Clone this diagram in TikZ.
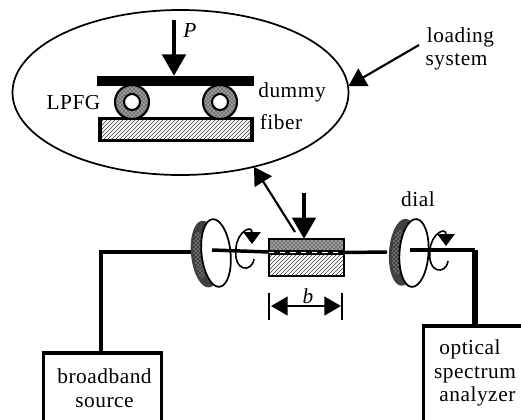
\documentclass[tikz,border=0pt]{standalone}
\usepackage{fontspec}
\setmainfont[LetterSpace=2.5]{Liberation Serif}
\usepackage{tikz}
\usetikzlibrary{positioning, arrows.meta, calc, patterns}

\tikzset{
  lbl/.style={inner sep=0pt, font=\fontsize{16}{17.6}\selectfont, align=center},
  bigarrow/.style={line width=3pt, -{Triangle[length=16pt,width=17.5pt]}},
  thinarrow/.style={line width=1.6pt, -{Triangle[length=13pt,width=15pt]}},
  turn/.style={line width=1.2pt, -{Triangle[length=9pt,width=13pt]}},
  fiber/.style={line width=2.6pt},
  hatched/.style={pattern=north east lines, pattern color=black!75},
  stipple/.style={preaction={fill=black!40}, pattern=crosshatch dots},
  instrument/.style={draw, line width=2.4pt, fill=white, inner sep=0pt}
}

\begin{document}
\begin{tikzpicture}[x=0.75pt, y=-0.75pt]
\useasboundingbox (0,0) rectangle (521,419);

% Enlarged view of the loading system
\draw[line width=1.3pt] (180.5,92.5) ellipse (168 and 82.5);
\coordinate (ellipseE) at (348.5,86);
\coordinate (ellipseS) at (254,167);

% Base plate and top plate
\node[draw, line width=2.4pt, hatched, minimum width=114pt, minimum height=17pt, inner sep=0pt] (base) at (176,129.5) {};
\node[fill=black, minimum width=118pt, minimum height=7.5pt, inner sep=0pt] (plate) at (175.5,81) {};

% Two fibers between the plates
\foreach \xx/\name in {132/ringL, 220/ringR} {
  \draw[line width=1.6pt, stipple] (\xx,102) circle (17);
  \draw[line width=1.6pt, fill=white] (\xx,102) circle (8);
  \coordinate (\name) at (\xx,102);
}

% Load on the plate
\coordinate (loadtop) at (174,20);
\draw[bigarrow] (loadtop) -- (plate.north -| loadtop);

% Labels of the enlarged view
\node[lbl] (P) at (190,31) {$\mathit{P}$};
\node[lbl] (LPFG) at (73.5,103) {LPFG};
\node[lbl] (dummy) at (292,92.5) {dummy};
\node[lbl] (fiberlbl) at (281,122) {fiber};
\node[lbl] (loading) at (460.5,49) {loading\\[-0.1pt]\hspace*{-6pt}system};

\coordinate (loadingtail) at (419,45);
\draw[thinarrow] (loadingtail) -- (ellipseE);

% Source and analyzer, cut by the edge of the picture
\node[instrument, minimum width=89pt, minimum height=70pt] (source) at (102.5,399.7) {};
\node[instrument, minimum width=95pt, minimum height=90pt] (analyzer) at (486.5,386) {};
\node[lbl] (sourcelbl) at (104.5,388) {broadband\\source};
\node[lbl, align=left] (analyzerlbl) at (475,373) {\hspace*{4pt}optical\\spectrum\\\hspace*{4pt}analyzer};

% Fiber path
\coordinate (bendL) at (101,252);
\coordinate (bendR) at (475,250);
\coordinate (axisL) at (212,250);
\coordinate (axisR) at (410,250);
\coordinate (rimL) at (191,252);
\coordinate (rimR) at (387,252);

\draw[fiber, line width=3pt] (source.north -| bendL) -- (bendL) -- (rimL);

% Grating under load
\node[minimum width=56pt, minimum height=27.5pt, inner sep=0pt] (sample) at (306.5,257.5) {};
\fill[hatched] (sample.south west) rectangle (sample.east |- 0,255);
\fill[stipple] (sample.north west) rectangle (sample.east |- 0,250);
\draw[line width=1.4pt] (sample.south west) rectangle (sample.north east);
\draw[fiber, line width=3.6pt] (sample.west |- 0,252.5) -- (sample.east |- 0,252.5);
\draw[white, line width=1.2pt, dash pattern=on 4pt off 4pt] (sample.west |- 0,252.5) -- (sample.east |- 0,252.5);
\draw[fiber] (sample.east |- 0,252.5) -- (rimR);

% Dials
\foreach \xx/\tilt/\name in {216/6/dialL, 414/-4/dialR} {
  \begin{scope}[shift={(\xx,253)}, rotate=\tilt]
    \fill[black!75] (-10.5,0) ellipse (14.5 and 33.5);
    \fill[pattern=crosshatch dots, pattern color=white] (-16,0) ellipse (6 and 23);
    \draw[line width=1.3pt, fill=white] (0,0) ellipse (14.5 and 34);
    \coordinate (\name) at (0,0);
  \end{scope}
}

% Axes through the dials
\draw[fiber] (axisL) -- (sample.west |- 0,252);
\draw[fiber] (axisR) -- (bendR);
\draw[fiber, line width=3.8pt] (bendR) -- (bendR |- analyzer.north);

% Rotation arrows
\foreach \xx/\yy/\name in {0/0/turnL, 194/2/turnR} {
  \draw[turn] ($(254,259)+(\xx,\yy)$) .. controls ($(252,273)+(\xx,\yy)$) and ($(233,272)+(\xx,\yy)$) .. ($(236,248)+(\xx,\yy)$)
    .. controls ($(237,232)+(\xx,\yy)$) and ($(252,224)+(\xx,\yy)$) .. ($(252,244)+(\xx,\yy)$);
  \coordinate (\name) at ($(240,250)+(\xx,\yy)$);
}

% Load on the grating and pointer to the enlarged view
\coordinate (pushtop) at (304,193);
\draw[bigarrow] (pushtop) -- (sample.north -| pushtop);
\coordinate (pointertail) at (295,232);
\draw[thinarrow] (pointertail) -- (ellipseS);

% Length of the grating
\coordinate (tickLt) at (269,293);
\coordinate (tickLb) at (269,320);
\coordinate (tickRt) at (342,293);
\coordinate (tickRb) at (342,320);
\draw[line width=1.4pt] (tickLt) -- (tickLb);
\draw[line width=1.4pt] (tickRt) -- (tickRb);
\draw[line width=1.8pt, {Triangle[length=12.5pt,width=14pt]}-{Triangle[length=12.5pt,width=14pt]}] (271,306) -- (341,306);
\node[lbl] (blbl) at (308,296) {$\mathit{b}$};

\node[lbl] (diallbl) at (418,199) {dial};

\end{tikzpicture}
\end{document}
